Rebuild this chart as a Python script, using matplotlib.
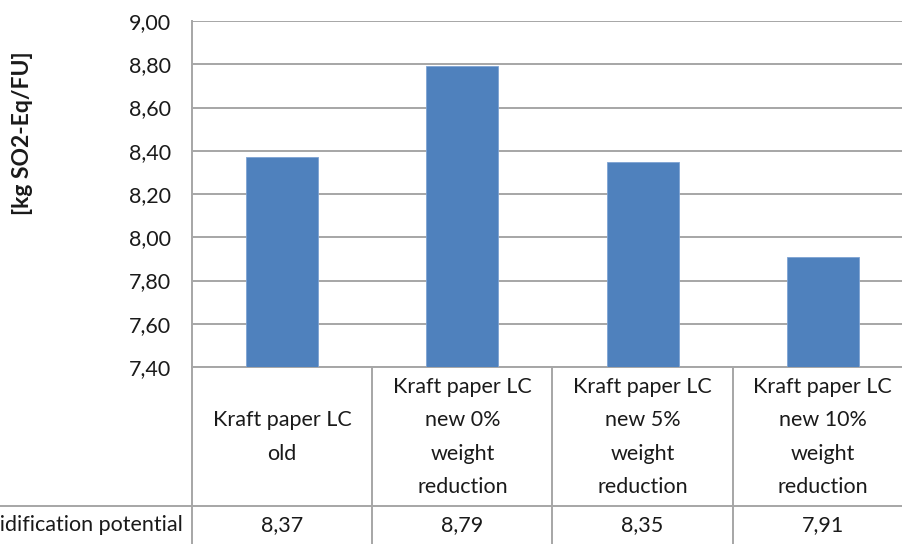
import matplotlib
matplotlib.use("Agg")
import matplotlib.pyplot as plt
from matplotlib.lines import Line2D

# Acidification potential per functional unit
categories = [
    "Kraft paper LC\nold",
    "Kraft paper LC\nnew 0%\nweight\nreduction",
    "Kraft paper LC\nnew 5%\nweight\nreduction",
    "Kraft paper LC\nnew 10%\nweight\nreduction",
]
values = [8.37, 8.79, 8.35, 7.91]
value_labels = ["8,37", "8,79", "8,35", "7,91"]
series_name = "Acidification potential"
y_ticks = [7.40, 7.60, 7.80, 8.00, 8.20, 8.40, 8.60, 8.80, 9.00]
y_label = "[kg SO2-Eq/FU]"

W, H = 903, 544
plt.rcParams["font.family"] = ["Lato", "DejaVu Sans"]
fig = plt.figure(figsize=(W / 100, H / 100), dpi=100)

def box(left, top, right, bottom):
    return [left / W, 1 - bottom / H, (right - left) / W, (bottom - top) / H]

grid_col = "#A6A6A6"
bar_col = "#4F81BD"
txt_col = "#1A1A1A"
fs = 15.5

n = len(categories)
xlim = (-0.5, n - 0.5)

# Plot area
ax = fig.add_axes(box(192, 21, 913, 367))
ax.bar(range(n), values, width=0.4, color=bar_col, edgecolor="#7EA3D3",
       linewidth=0.6, zorder=3)
ax.set_xlim(*xlim)
ax.set_ylim(y_ticks[0], y_ticks[-1])
ax.set_yticks(y_ticks)
ax.set_yticklabels([f"{t:.2f}".replace(".", ",") for t in y_ticks],
                   fontsize=fs, color=txt_col)
ax.tick_params(axis="y", length=0, pad=15)
ax.set_xticks([])
ax.yaxis.grid(True, color=grid_col, linewidth=1.4, zorder=0)
for s in ["top", "right"]:
    ax.spines[s].set_visible(False)
for s in ["left", "bottom"]:
    ax.spines[s].set_color(grid_col)
    ax.spines[s].set_linewidth(1.4)

# Data table below the plot area
tab = fig.add_axes(box(192, 367, 913, 560))
tab.set_xlim(*xlim)
tab.set_ylim(560, 367)
tab.axis("off")
for b in [x - 0.5 for x in range(n + 1)]:
    tab.plot([b, b], [367, 560], color=grid_col, linewidth=1.4, clip_on=False)
for i, (lab, vl) in enumerate(zip(categories, value_labels)):
    tab.text(i, 437, lab, ha="center", va="center", fontsize=fs,
             color=txt_col, linespacing=1.82)
    tab.text(i, 525, vl, ha="center", va="center", fontsize=fs, color=txt_col)

# Row separator running across the full width
fig.add_artist(Line2D([0, 1], [1 - 506 / H, 1 - 506 / H], color=grid_col,
                      linewidth=1.4, transform=fig.transFigure))
fig.text(183 / W, 1 - 525 / H, series_name, ha="right", va="center",
         fontsize=fs, color=txt_col)

fig.text(23 / W, 1 - 133 / H, y_label, rotation=90, ha="center", va="center",
         fontsize=16.5, fontweight="bold", color=txt_col)

fig.savefig("out.png", dpi=100)
